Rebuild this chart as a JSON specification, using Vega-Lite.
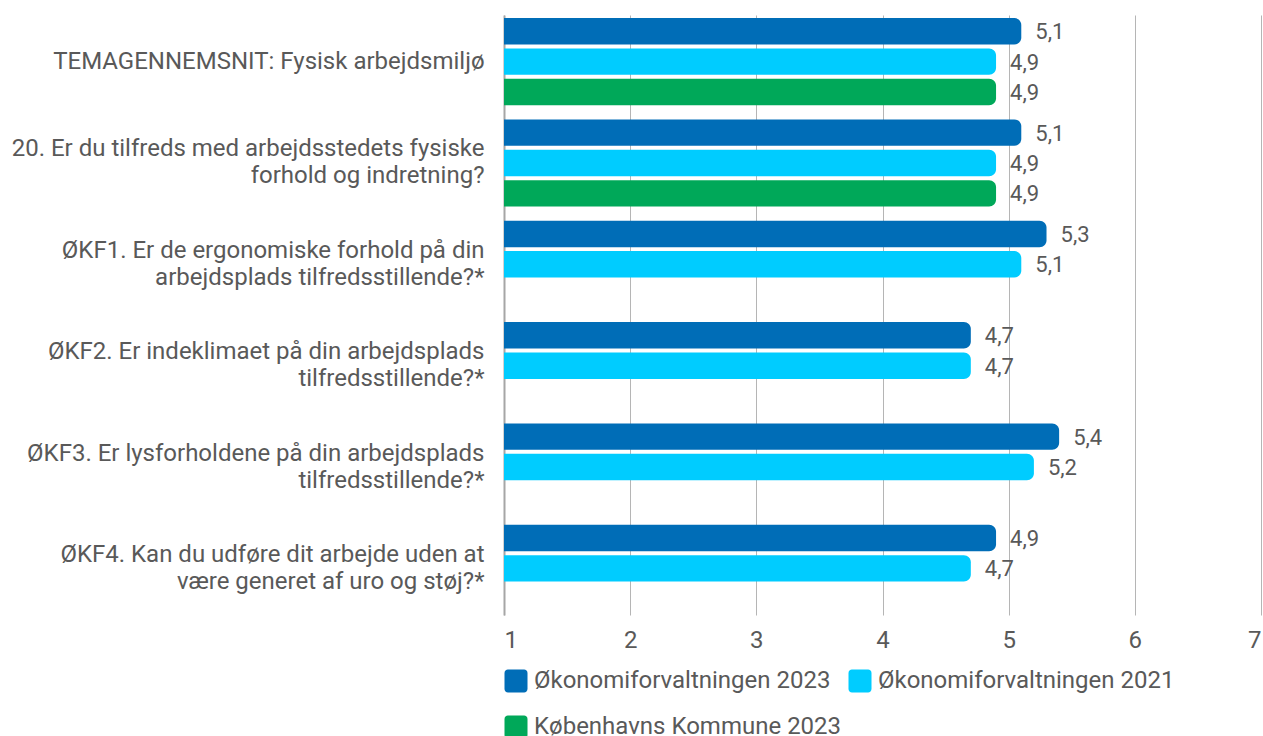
{
  "$schema": "https://vega.github.io/schema/vega-lite/v6.json",
  "autosize": {"type": "none"},
  "padding": {"left": 504, "top": 15, "right": 2, "bottom": 121},
  "width": 757,
  "height": 600,
  "background": "white",
  "config": {
    "font": "Roboto",
    "view": {"stroke": null},
    "locale": {"number": {"decimal": ",", "thousands": ".", "grouping": [3], "currency": ["", " kr."]}}
  },
  "data": {
    "values": [
      {"q": "TEMAGENNEMSNIT: Fysisk arbejdsmiljø", "s": "Økonomiforvaltningen 2023", "v": 5.1},
      {"q": "TEMAGENNEMSNIT: Fysisk arbejdsmiljø", "s": "Økonomiforvaltningen 2021", "v": 4.9},
      {"q": "TEMAGENNEMSNIT: Fysisk arbejdsmiljø", "s": "Københavns Kommune 2023", "v": 4.9},
      {"q": "20. Er du tilfreds med arbejdsstedets fysiske\nforhold og indretning?", "s": "Økonomiforvaltningen 2023", "v": 5.1},
      {"q": "20. Er du tilfreds med arbejdsstedets fysiske\nforhold og indretning?", "s": "Økonomiforvaltningen 2021", "v": 4.9},
      {"q": "20. Er du tilfreds med arbejdsstedets fysiske\nforhold og indretning?", "s": "Københavns Kommune 2023", "v": 4.9},
      {"q": "ØKF1. Er de ergonomiske forhold på din\narbejdsplads tilfredsstillende?*", "s": "Økonomiforvaltningen 2023", "v": 5.3},
      {"q": "ØKF1. Er de ergonomiske forhold på din\narbejdsplads tilfredsstillende?*", "s": "Økonomiforvaltningen 2021", "v": 5.1},
      {"q": "ØKF2. Er indeklimaet på din arbejdsplads\ntilfredsstillende?*", "s": "Økonomiforvaltningen 2023", "v": 4.7},
      {"q": "ØKF2. Er indeklimaet på din arbejdsplads\ntilfredsstillende?*", "s": "Økonomiforvaltningen 2021", "v": 4.7},
      {"q": "ØKF3. Er lysforholdene på din arbejdsplads\ntilfredsstillende?*", "s": "Økonomiforvaltningen 2023", "v": 5.4},
      {"q": "ØKF3. Er lysforholdene på din arbejdsplads\ntilfredsstillende?*", "s": "Økonomiforvaltningen 2021", "v": 5.2},
      {"q": "ØKF4. Kan du udføre dit arbejde uden at\nvære generet af uro og støj?*", "s": "Økonomiforvaltningen 2023", "v": 4.9},
      {"q": "ØKF4. Kan du udføre dit arbejde uden at\nvære generet af uro og støj?*", "s": "Økonomiforvaltningen 2021", "v": 4.7}
    ]
  },
  "encoding": {
    "y": {
      "field": "q", "type": "nominal", "sort": null, "title": null,
      "scale": {"paddingInner": 0.14, "paddingOuter": 0.03},
      "axis": {
        "labelExpr": "split(datum.label, '\\n')",
        "labelFont": "Roboto", "labelFontSize": 24, "labelColor": "#595959",
        "labelLineHeight": 27,
        "labelOffset": {"condition": {"test": "indexof(datum.value, '\\n') >= 0", "value": -13.5}, "value": 0},
        "labelPadding": 20, "labelLimit": 600,
        "ticks": false, "domain": true, "domainColor": "#a6a6a6", "domainWidth": 2,
        "grid": false
      }
    },
    "yOffset": {
      "field": "s", "type": "nominal",
      "sort": ["Økonomiforvaltningen 2023", "Økonomiforvaltningen 2021", "Københavns Kommune 2023"],
      "scale": {"paddingInner": 0.13, "paddingOuter": 0.0}
    },
    "x": {
      "field": "v", "type": "quantitative", "title": null,
      "scale": {"domain": [1, 7], "zero": false, "nice": false},
      "axis": {
        "values": [1, 2, 3, 4, 5, 6, 7], "format": "d",
        "labelFont": "Roboto", "labelFontSize": 24, "labelColor": "#595959",
        "labelPadding": 13, "ticks": false, "domain": false,
        "grid": true, "gridColor": "#b5b5b5", "gridWidth": 1
      }
    }
  },
  "layer": [
    {
      "mark": {"type": "bar", "cornerRadiusTopRight": 7, "cornerRadiusBottomRight": 7},
      "encoding": {
        "x2": {"datum": 1},
        "color": {
          "field": "s", "type": "nominal", "title": null,
          "sort": ["Økonomiforvaltningen 2023", "Økonomiforvaltningen 2021", "Københavns Kommune 2023"],
          "scale": {
            "domain": ["Økonomiforvaltningen 2023", "Økonomiforvaltningen 2021", "Københavns Kommune 2023"],
            "range": ["#006DB7", "#00CCFF", "#00A859"]
          },
          "legend": {
            "orient": "none", "legendX": 0, "legendY": 654,
            "direction": "horizontal", "columns": 2,
            "symbolType": "M-0.7,-1H0.7A0.3,0.3 0 0 1 1,-0.7V0.7A0.3,0.3 0 0 1 0.7,1H-0.7A0.3,0.3 0 0 1 -1,0.7V-0.7A0.3,0.3 0 0 1 -0.7,-1Z",
            "symbolSize": 529, "symbolStrokeWidth": 0, "symbolOpacity": 1,
            "labelFont": "Roboto", "labelFontSize": 24, "labelColor": "#595959",
            "labelOffset": 6, "columnPadding": 6, "rowPadding": 22,
            "labelLimit": 500
          }
        }
      }
    },
    {
      "mark": {"type": "text", "align": "left", "baseline": "middle", "dx": 14, "dy": 1, "font": "Roboto", "fontSize": 22, "color": "#595959"},
      "encoding": {
        "text": {"field": "v", "type": "quantitative", "format": ".1f"}
      }
    }
  ]
}
